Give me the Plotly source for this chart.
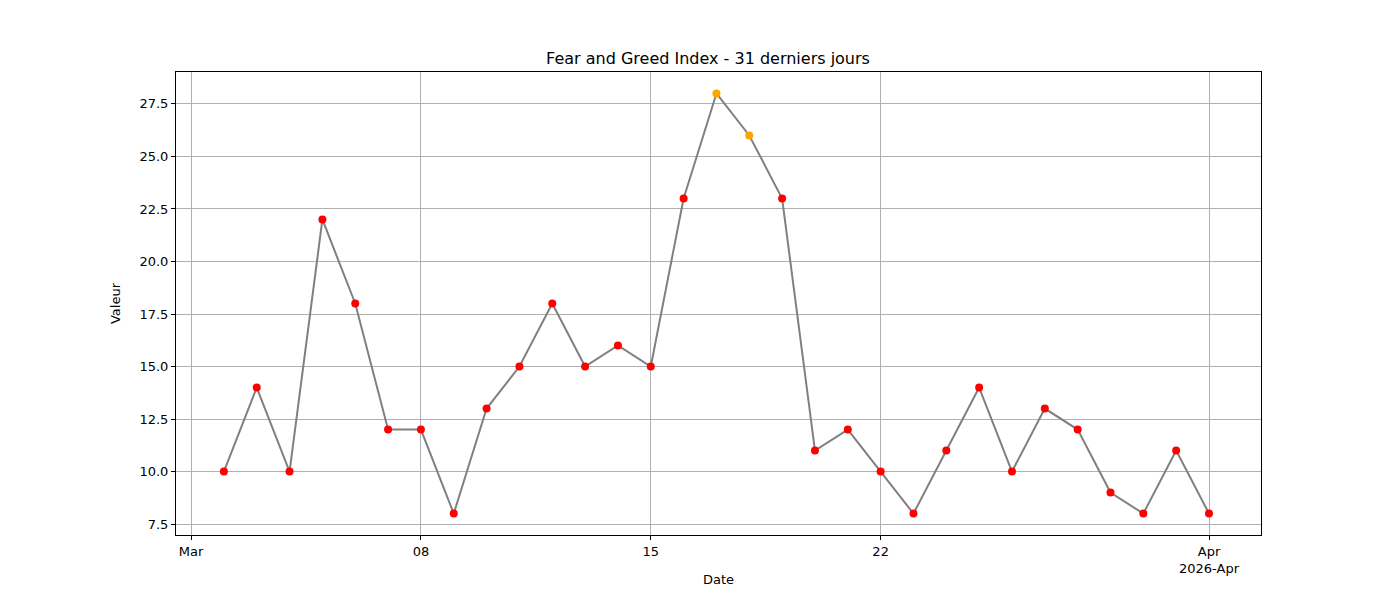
import plotly.graph_objects as go
import pandas as pd

dates = pd.date_range("2026-03-02", "2026-04-01", freq="D")
values = [10, 14, 10, 22, 18, 12, 12, 8, 13, 15, 18, 15, 16, 15, 23, 28, 26, 23,
          11, 12, 10, 8, 11, 14, 10, 13, 12, 9, 8, 11, 8]
colors = ["orange" if v >= 25 else "red" for v in values]

tick_vals = ["2026-03-01", "2026-03-08", "2026-03-15", "2026-03-22", "2026-04-01"]
tick_text = ["Mar", "08", "15", "22", "Apr<br>2026-Apr"]
y_ticks = [7.5, 10, 12.5, 15, 17.5, 20, 22.5, 25, 27.5]

fig = go.Figure()
fig.add_trace(go.Scatter(x=dates, y=values, mode="lines",
                         line=dict(color="grey", width=2), showlegend=False))
fig.add_trace(go.Scatter(x=dates, y=values, mode="markers",
                         marker=dict(color=colors, size=8), showlegend=False))

axis_style = dict(showline=True, linecolor="black", linewidth=1, mirror=True,
                  showgrid=True, gridcolor="#b0b0b0", gridwidth=1,
                  ticks="outside", ticklen=4, tickcolor="black", zeroline=False,
                  tickfont=dict(size=13, color="black"))

fig.update_layout(
    width=1400, height=600,
    paper_bgcolor="white", plot_bgcolor="white",
    margin=dict(l=168, r=147, t=64, b=73),
    font=dict(family="DejaVu Sans", color="black"),
    title=dict(text="Fear and Greed Index - 31 derniers jours", x=0.5, xanchor="center",
               y=1 - 50 / 600, yanchor="middle", font=dict(size=16)),
    xaxis=dict(range=["2026-02-28 13:00", "2026-04-02 14:00"],
               tickvals=tick_vals, ticktext=tick_text,
               title=dict(text="Date", font=dict(size=13), standoff=0), **axis_style),
    yaxis=dict(range=[6.98, 29.02], tickvals=y_ticks,
               ticktext=[f"{v:.1f}" for v in y_ticks],
               title=dict(text="Valeur", font=dict(size=13)), **axis_style),
)

fig.write_html("out.html")
